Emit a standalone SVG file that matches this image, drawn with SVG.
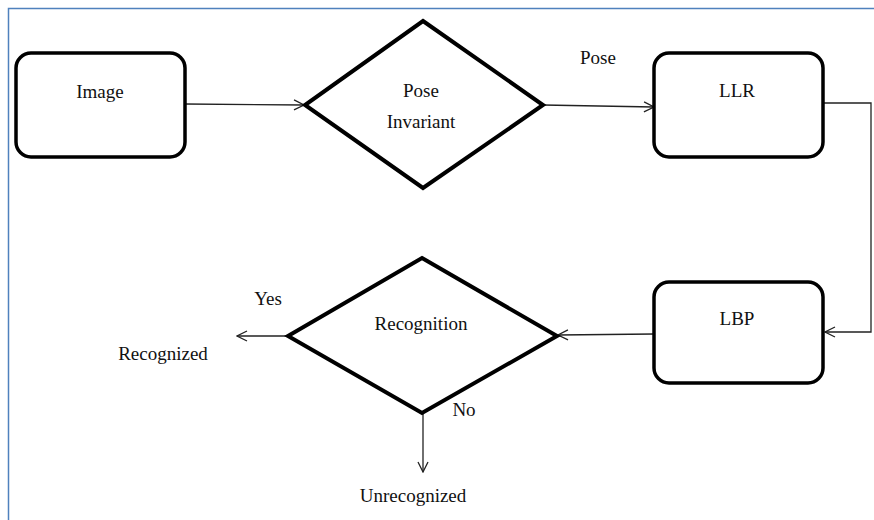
<svg xmlns="http://www.w3.org/2000/svg" width="874" height="520" viewBox="0 0 874 520">
<style>
.box{fill:#fff;stroke:#000;stroke-width:3.5}
.dia{fill:#fff;stroke:#000;stroke-width:4;stroke-linejoin:miter}
.con{fill:none;stroke:#222;stroke-width:1.3}
text{font-family:"Liberation Serif","Times New Roman",serif;font-size:19px;fill:#111;text-anchor:middle}
</style>
<defs>
<marker id="arr" viewBox="0 0 12 12" refX="11" refY="6" markerWidth="12" markerHeight="12" markerUnits="userSpaceOnUse" orient="auto">
<path d="M1,1 L11,6 L1,11" fill="none" stroke="#222" stroke-width="1.3"/>
</marker>
</defs>
<rect width="874" height="520" fill="#fff"/>
<path d="M8.5,520 V8.5 H874" fill="none" stroke="#4f81bd" stroke-width="1.5"/>
<g id="connectors">
<line class="con" x1="185" y1="104" x2="304" y2="105" marker-end="url(#arr)"/>
<line class="con" x1="543" y1="105" x2="654" y2="107" marker-end="url(#arr)"/>
<polyline class="con" points="823,103 871,103 871,332 825,332" marker-end="url(#arr)"/>
<line class="con" x1="654" y1="334" x2="558" y2="335" marker-end="url(#arr)"/>
<line class="con" x1="288" y1="336" x2="237" y2="336" marker-end="url(#arr)"/>
<line class="con" x1="423" y1="413" x2="423" y2="472" marker-end="url(#arr)"/>
</g>
<g id="image">
<rect class="box" x="16" y="53" width="169" height="104" rx="15"/>
<text x="100" y="98">Image</text>
</g>
<g id="pose-invariant">
<polygon class="dia" points="423,21 543,105 423,188 305,105"/>
<text x="421" y="97">Pose</text>
<text x="421" y="128">Invariant</text>
</g>
<g id="llr">
<rect class="box" x="654" y="53" width="169" height="104" rx="15"/>
<text x="737" y="97">LLR</text>
</g>
<g id="lbp">
<rect class="box" x="654" y="282" width="169" height="101" rx="15"/>
<text x="737" y="325">LBP</text>
</g>
<g id="recognition">
<polygon class="dia" points="422,258 557,336 422,413 288,336"/>
<text x="421" y="330">Recognition</text>
</g>
<g id="labels">
<text x="598" y="64">Pose</text>
<text x="268" y="305">Yes</text>
<text x="163" y="360">Recognized</text>
<text x="464" y="416">No</text>
<text x="413" y="502">Unrecognized</text>
</g>
</svg>
